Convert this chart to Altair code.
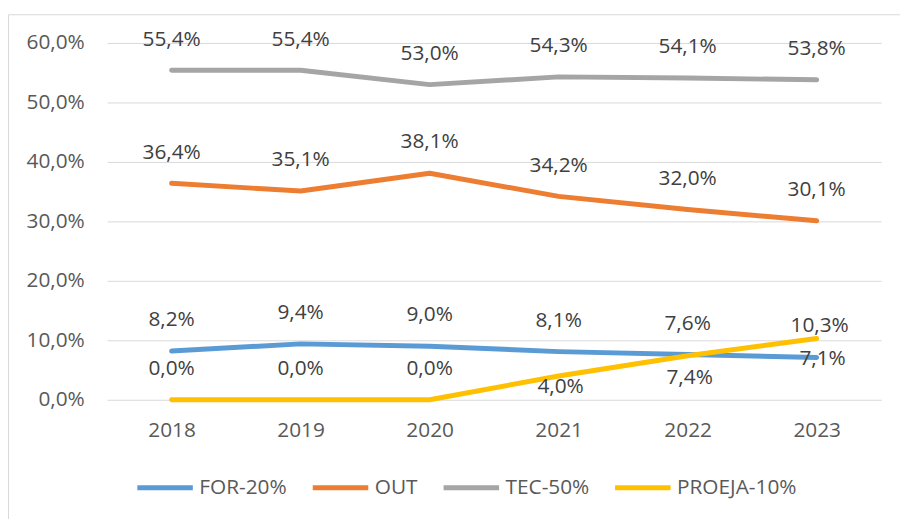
import altair as alt
import pandas as pd

years = ["2018", "2019", "2020", "2021", "2022", "2023"]
series = ["FOR-20%", "OUT", "TEC-50%", "PROEJA-10%"]
for_vals = [8.2, 9.4, 9.0, 8.1, 7.6, 7.1]
out_vals = [36.4, 35.1, 38.1, 34.2, 32.0, 30.1]
tec_vals = [55.4, 55.4, 53.0, 54.3, 54.1, 53.8]
proeja_vals = [0.0, 0.0, 0.0, 4.0, 7.4, 10.3]
colors = ["#5B9BD5", "#ED7D31", "#A5A5A5", "#FFC000"]
y_ticks = [0, 10, 20, 30, 40, 50, 60]

rows = []
for s, vals in zip(series, [for_vals, out_vals, tec_vals, proeja_vals]):
    for yr, v in zip(years, vals):
        rows.append({"ano": yr, "serie": s, "valor": v})
df = pd.DataFrame(rows)

# label placement styles (pixel offsets dx, dy); default is above the point
DEFAULT_POS = (0, -31)
label_styles = {
    ("PROEJA-10%", "2021"): (2, 11),
    ("PROEJA-10%", "2022"): (2, 22),
    ("PROEJA-10%", "2023"): (3, -13),
    ("FOR-20%", "2023"): (6, 2),
}
df["pos"] = [
    "%d_%d" % label_styles.get((s, a), DEFAULT_POS) for s, a in zip(df["serie"], df["ano"])
]

FONT = "Open Sans"
FS = 21

x_enc = alt.X(
    "ano:O",
    sort=years,
    scale=alt.Scale(type="point", padding=0.5),
    axis=alt.Axis(title=None, labelAngle=0, grid=False, labelPadding=31,
                  labelBaseline="middle"),
)
y_enc = alt.Y(
    "valor:Q",
    scale=alt.Scale(domain=[0, 60], nice=False, zero=True),
    axis=alt.Axis(
        title=None,
        values=y_ticks,
        labelExpr="replace(format(datum.value, '.1f'), '.', ',') + '%'",
        labelPadding=23,
    ),
)

base = alt.Chart(df)

lines = base.mark_line(
    strokeWidth=5, strokeCap="round", strokeJoin="round", interpolate="linear"
).encode(
    x=x_enc,
    y=y_enc,
    color=alt.Color(
        "serie:N",
        scale=alt.Scale(domain=series, range=colors),
        legend=alt.Legend(
            title=None,
            orient="none",
            legendX=28,
            legendY=418,
            direction="horizontal",
            columns=4,
            symbolType="stroke",
            symbolSize=3136,
            symbolStrokeWidth=5,
            labelOffset=4,
            columnPadding=15,
            labelFont=FONT,
            labelFontSize=FS,
            labelColor="#595959",
            padding=0,
        ),
    ),
)

text_layers = []
for key in sorted(set(df["pos"])):
    dx, dy = [int(v) for v in key.split("_")]
    t = (
        base.transform_filter(alt.datum.pos == key)
        .transform_calculate(
            label="replace(format(datum.valor, '.1f'), '.', ',') + '%'"
        )
        .mark_text(
            dx=dx, dy=dy, font=FONT, fontSize=FS, color="#404040", baseline="middle"
        )
        .encode(x=x_enc, y=y_enc, text="label:N")
    )
    text_layers.append(t)

frame = (
    alt.Chart(pd.DataFrame({"a": [0]}))
    .mark_rect(filled=False, stroke="#D9D9D9", strokeWidth=1)
    .encode(
        x=alt.value(-99.5), x2=alt.value(900), y=alt.value(-28.5), y2=alt.value(600)
    )
)

chart = (
    alt.layer(frame, lines, *text_layers)
    .properties(
        width=781,
        height=360,
        autosize=alt.AutoSizeParams(type="none"),
        padding={"left": 100, "top": 33, "right": 19, "bottom": 118},
    )
    .configure_view(strokeWidth=0)
    .configure_axis(
        gridColor="#D9D9D9",
        gridWidth=1,
        domain=False,
        ticks=False,
        tickSize=0,
        labelFont=FONT,
        labelFontSize=FS,
        labelColor="#595959",
    )
)

chart.save("out.html", embed_options={"renderer": "svg", "actions": False})
